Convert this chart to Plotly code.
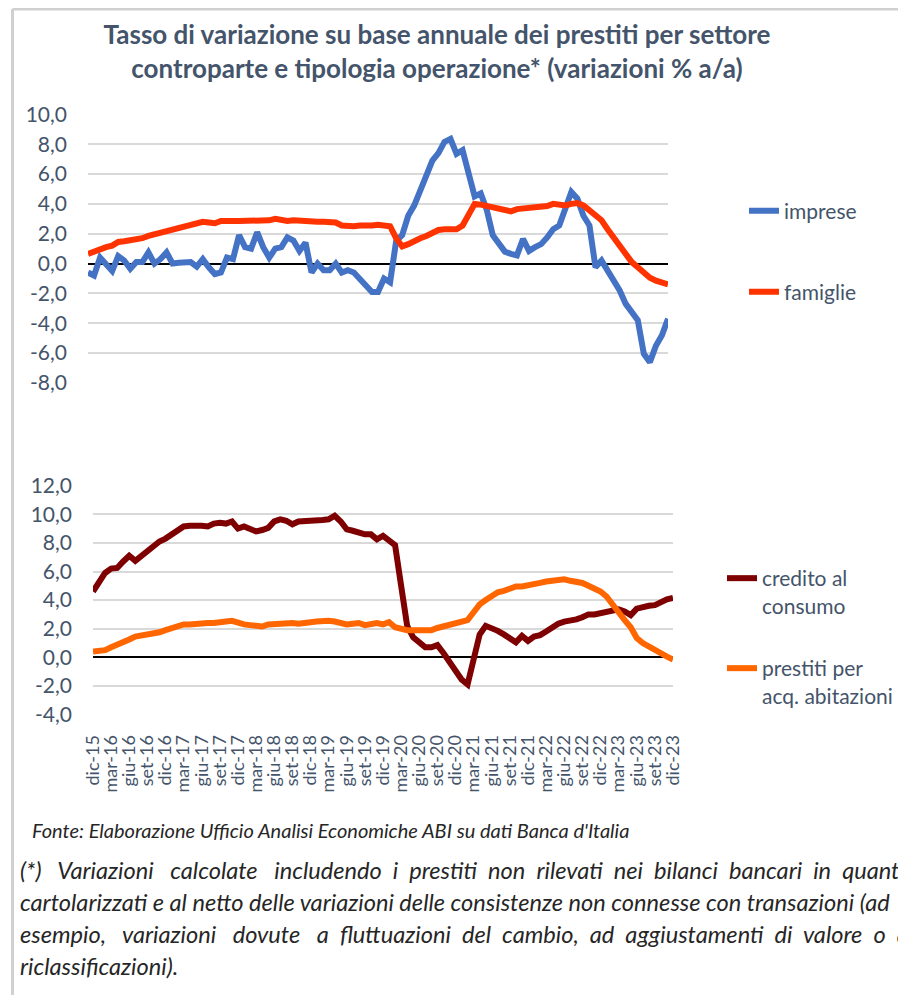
import plotly.graph_objects as go

# mesi da dic-15 a dic-23
nomi_mesi = ["gen", "feb", "mar", "apr", "mag", "giu", "lug", "ago", "set", "ott", "nov", "dic"]
mesi = ["dic-15"] + [f"{m}-{a}" for a in range(16, 24) for m in nomi_mesi]

imprese = [-0.6, -0.8, 0.4, -0.1, -0.5, 0.5, 0.2, -0.35, 0.1, 0.1,
           0.75, 0.0, 0.3, 0.75, 0.0, 0.05, 0.05, 0.1, -0.2, 0.3,
           -0.25, -0.7, -0.6, 0.4, 0.3, 1.9, 1.1, 1.0, 2.1, 1.1,
           0.4, 1.0, 1.1, 1.75, 1.55, 0.85, 1.4, -0.6, 0.0, -0.45,
           -0.45, 0.0, -0.6, -0.45, -0.6, -1.0, -1.5, -1.9, -1.9, -1.0,
           -1.25, 1.5, 1.9, 3.2, 3.9, 4.9, 6.1, 6.9, 7.4, 8.15,
           8.35, 7.35, 7.6, 5.9, 4.5, 4.7, 3.6, 1.9, 1.3, 0.8,
           0.65, 0.55, 1.65, 0.85, 1.1, 1.3, 1.75, 2.3, 2.55, 3.55,
           4.8, 4.35, 3.2, 2.55, -0.25, 0.2, -0.45, -1.0, -1.8, -2.7,
           -3.2, -3.8, -6.05, -6.6, -5.5, -4.8, -3.7]

famiglie = [0.65, 0.8, 1.05, 1.1, 1.2, 1.45, 1.5, 1.55, 1.65, 1.7,
            1.85, 1.95, 2.05, 2.2, 2.3, 2.45, 2.5, 2.6, 2.75, 2.8,
            2.75, 2.7, 2.85, 2.9, 2.85, 2.85, 2.85, 2.9, 2.95, 2.85,
            2.9, 3.0, 2.9, 2.85, 2.9, 2.85, 2.85, 2.8, 2.8, 2.8,
            2.75, 2.75, 2.55, 2.5, 2.5, 2.55, 2.5, 2.55, 2.6, 2.55,
            2.5, 1.7, 1.15, 1.3, 1.55, 1.7, 1.85, 2.1, 2.25, 2.3,
            2.35, 2.3, 2.55, 3.2, 4.0, 3.95, 3.85, 3.75, 3.65, 3.55,
            3.5, 3.65, 3.7, 3.7, 3.85, 3.8, 3.85, 4.0, 3.95, 3.9,
            4.0, 4.05, 3.9, 3.6, 3.2, 2.9, 2.3, 1.75, 1.25, 0.6,
            0.1, -0.25, -0.6, -0.95, -1.15, -1.3, -1.4]

credito_consumo = [4.6, 5.3, 5.9, 6.2, 6.25, 6.7, 7.1, 6.75, 7.1, 7.45,
                   7.8, 8.1, 8.3, 8.6, 8.8, 9.15, 9.2, 9.25, 9.2, 9.15,
                   9.35, 9.4, 9.35, 9.5, 9.0, 9.15, 9.0, 8.8, 8.9, 9.05,
                   9.5, 9.65, 9.55, 9.3, 9.5, 9.5, 9.5, 9.55, 9.6, 9.65,
                   9.9, 9.5, 8.95, 8.85, 8.7, 8.6, 8.6, 8.25, 8.5, 8.2,
                   7.85, 5.0, 2.2, 1.4, 1.0, 0.7, 0.7, 0.85, 0.3, -0.35,
                   -0.9, -1.55, -1.9, 0.0, 1.6, 2.2, 2.05, 1.85, 1.6, 1.35,
                   1.05, 1.5, 1.15, 1.45, 1.55, 1.8, 2.1, 2.35, 2.5, 2.55,
                   2.65, 2.8, 3.0, 3.0, 3.1, 3.2, 3.3, 3.35, 3.2, 2.95,
                   3.4, 3.55, 3.6, 3.65, 3.9, 4.05, 4.15]

prestiti_abitazioni = [0.4, 0.45, 0.5, 0.7, 0.85, 1.0, 1.25, 1.45, 1.5, 1.55,
                       1.65, 1.75, 1.9, 2.05, 2.2, 2.3, 2.3, 2.35, 2.45, 2.4,
                       2.4, 2.5, 2.5, 2.55, 2.4, 2.3, 2.25, 2.2, 2.15, 2.3,
                       2.35, 2.3, 2.35, 2.4, 2.35, 2.35, 2.45, 2.5, 2.55, 2.55,
                       2.5, 2.4, 2.3, 2.35, 2.4, 2.25, 2.35, 2.4, 2.3, 2.45,
                       2.1, 1.95, 1.9, 1.9, 1.9, 1.85, 1.9, 2.05, 2.15, 2.25,
                       2.35, 2.55, 2.6, 3.15, 3.7, 4.0, 4.3, 4.55, 4.65, 4.8,
                       4.95, 4.95, 5.0, 5.05, 5.2, 5.3, 5.35, 5.4, 5.45, 5.35,
                       5.3, 5.2, 5.0, 4.85, 4.6, 4.25, 3.65, 3.05, 2.6, 2.1,
                       1.35, 1.0, 0.75, 0.45, 0.2, 0.05, -0.15]

tick_sopra = list(range(-8, 11, 2))
tick_sotto = list(range(-4, 13, 2))

TESTO = "#44546A"
FONT = "Lato"
# la pagina ha 8px di margine: la figura e' piu' piccola e le posizioni sono traslate
OFF = 8
W, H = 906 - OFF, 995 - OFF


def px(x):
    return (x - OFF) / W


def py(y):
    return 1 - (y - OFF) / H


def etichette(vals):
    return [f"{v:.1f}".replace(".", ",") for v in vals]


fig = go.Figure()

serie = [
    ("imprese", imprese, "#4472C4", "x", "y", "legend"),
    ("famiglie", famiglie, "#FF3300", "x", "y", "legend2"),
    ("credito al<br>consumo", credito_consumo, "#7F0000", "x2", "y2", "legend3"),
    ("prestiti per<br>acq. abitazioni", prestiti_abitazioni, "#FF6600", "x2", "y2", "legend4"),
]
for nome, valori, colore, xa, ya, leg in serie:
    fig.add_trace(go.Scatter(
        x=mesi, y=valori, name=nome, mode="lines",
        line=dict(color=colore, width=6),
        xaxis=xa, yaxis=ya, legend=leg,
    ))

asse_y = dict(
    showgrid=True, gridcolor="#D9D9D9", gridwidth=1.5,
    zeroline=True, zerolinecolor="black", zerolinewidth=2,
    showline=False, ticks="", tickmode="array", automargin=False,
    tickfont=dict(family=FONT, size=21, color=TESTO),
    ticklabelstandoff=20,
)

leg = dict(
    xanchor="left", yanchor="middle", bgcolor="rgba(0,0,0,0)",
    font=dict(family=FONT, size=21, color=TESTO), valign="top",
)

fig.update_layout(
    width=W, height=H,
    paper_bgcolor="white", plot_bgcolor="white",
    margin=dict(l=0, r=0, t=0, b=0, autoexpand=False),
    title=dict(
        text="Tasso di variazione su base annuale dei prestiti per settore<br>"
             "controparte e tipologia operazione* (variazioni % a/a)",
        x=px(437), xanchor="center", y=py(44), yanchor="top",
        font=dict(family=FONT, size=26, color=TESTO, weight="bold"),
    ),
    xaxis=dict(domain=[px(88), px(668)], range=[0, 96], showgrid=False,
               showticklabels=False, ticks="", anchor="y", automargin=False),
    yaxis=dict(domain=[py(383), py(114.3)], range=[-8, 10],
               tickvals=tick_sopra, ticktext=etichette(tick_sopra), anchor="x", **asse_y),
    xaxis2=dict(domain=[px(93), px(673)], range=[0, 96], showgrid=False,
                anchor="y2", ticks="", tickmode="array", automargin=False,
                tickvals=mesi[::3], ticktext=mesi[::3], tickangle=-90,
                tickfont=dict(family=FONT, size=18, color=TESTO),
                ticklabelstandoff=16),
    yaxis2=dict(domain=[py(714.5), py(485.7)], range=[-4, 12],
                tickvals=tick_sotto, ticktext=etichette(tick_sotto), anchor="x2", **asse_y),
    legend=dict(x=px(744), y=py(211), **leg),
    legend2=dict(x=px(744), y=py(292), **leg),
    legend3=dict(x=px(722), y=py(592), **leg),
    legend4=dict(x=px(722), y=py(682), **leg),
    showlegend=True,
)

# cornice grigia della pagina
fig.add_shape(type="line", xref="paper", yref="paper", x0=px(12.5), x1=1.0,
              y0=py(9), y1=py(9), line=dict(color="#D0D0D0", width=3))
fig.add_shape(type="line", xref="paper", yref="paper", x0=px(12.5), x1=px(12.5),
              y0=py(9), y1=0.0, line=dict(color="#D0D0D0", width=3))

fonte = "Fonte: Elaborazione Ufficio Analisi Economiche ABI su dati Banca d'Italia"
# testo giustificato: spazi aggiuntivi tra le parole delle righe piene
nota = [
    ("(*) Variazioni calcolate includendo i prestiti non rilevati nei bilanci bancari in quanto", 15),
    ("cartolarizzati e al netto delle variazioni delle consistenze non connesse con transazioni (ad", 0),
    ("esempio, variazioni dovute a fluttuazioni del cambio, ad aggiustamenti di valore o a", 15),
    ("riclassificazioni).", 0),
]


def giustifica(riga, extra):
    parole = riga.split(" ")
    gap = len(parole) - 1
    out = parole[0]
    for k, p in enumerate(parole[1:]):
        n = 1 + extra // gap + (1 if k < extra % gap else 0)
        out += "&nbsp;" * (n - 1) + " " + p
    return out


fig.add_annotation(text=f"<i>{fonte}</i>", xref="paper", yref="paper",
                   x=px(30), y=py(830), xanchor="left", yanchor="middle",
                   showarrow=False, font=dict(family=FONT, size=20, color="#262626"))
for i, (riga, extra) in enumerate(nota):
    fig.add_annotation(text=f"<i>{giustifica(riga, extra)}</i>", xref="paper", yref="paper",
                       x=px(18), y=py(870 + 32 * i), xanchor="left", yanchor="middle",
                       showarrow=False, font=dict(family=FONT, size=23.6, color="#262626"))

fig.write_html("out.html")
